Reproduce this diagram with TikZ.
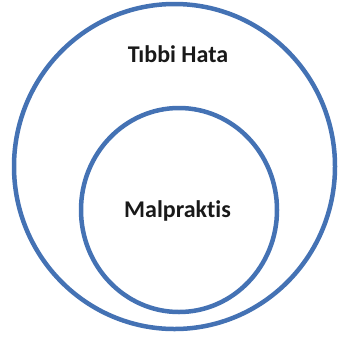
\documentclass[tikz,border=0pt]{standalone}
\usepackage{fontspec}
\setmainfont{Carlito}[Ligatures={NoCommon}]
\usepackage{tikz}
\usetikzlibrary{positioning}
\definecolor{ringblue}{RGB}{68,114,180}
\tikzset{every picture/.style={line width=0.75pt}}

\begin{document}
\begin{tikzpicture}[x=1pt, y=-1pt,
  ring/.style={draw=ringblue, line width=4.5pt},
  label/.style={font=\fontsize{24}{28}\selectfont\bfseries, text=black!90}]
\useasboundingbox (0,0) rectangle (339,338);

% Tibbi Hata
\draw[ring] (174.5,166.5) ellipse [x radius=160.5, y radius=162.5];
\node[label] (hata) at (178,54) {Tıbbi Hata};

% Malpraktis
\draw[ring] (179,210) ellipse [x radius=98, y radius=102];
\node[label] (malpraktis) at (177.5,211) {Malpraktis};
\end{tikzpicture}
\end{document}
